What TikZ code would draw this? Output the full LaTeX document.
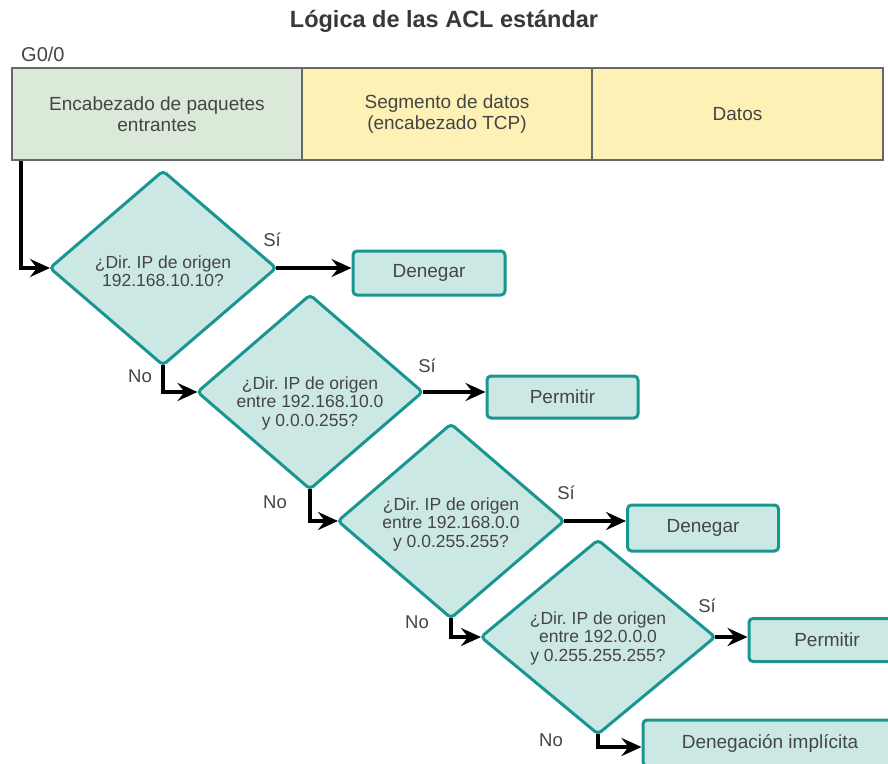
\documentclass[tikz,border=0pt]{standalone}
\usepackage{fontspec}
\setmainfont{Liberation Sans}
\usetikzlibrary{shapes.geometric,arrows.meta}
\definecolor{tealline}{HTML}{1A9690}
\definecolor{tealfill}{HTML}{CCE8E5}
\definecolor{hgreen}{HTML}{DAE9D8}
\definecolor{hyellow}{HTML}{FDF1B6}
\definecolor{hborder}{HTML}{686868}
\definecolor{txt}{HTML}{454545}
\frenchspacing
\tikzset{
  hcell/.style={draw=hborder, line width=2.6pt, minimum height=92pt, inner sep=0pt, align=center, text=txt, font=\fontsize{19}{21}\selectfont},
  dia/.style={diamond, draw=tealline, fill=tealfill, line width=3pt, rounded corners=4pt, inner sep=0pt, outer sep=0pt, minimum width=226pt, minimum height=194pt},
  diatext/.style={align=center, text=txt, font=\fontsize{17.5}{18.5}\selectfont, inner sep=0pt},
  resbox/.style={draw=tealline, fill=tealfill, line width=3pt, rounded corners=4pt, inner sep=0pt, text=txt, font=\fontsize{19}{21}\selectfont},
  lbl/.style={text=txt, font=\fontsize{18.5}{20}\selectfont, inner sep=0pt},
  flow/.style={line width=4.5pt, black, -{Stealth[length=20pt,width=18pt,inset=7pt]}}
}
\begin{document}
\begin{tikzpicture}[x=1pt,y=-1pt]
\clip (0,0) rectangle (888,763);
\fill[white] (0,0) rectangle (888,763);
% title
\node[anchor=base, text=black!78, font=\fontsize{23.5}{26}\selectfont\bfseries, inner sep=0pt] (title) at (444,27) {Lógica de las ACL estándar};
\node[anchor=base west, text=txt, font=\fontsize{20}{22}\selectfont, inner sep=0pt] (g00) at (21,61) {G0/0};
% header
\node[hcell, fill=hgreen, minimum width=290pt] (h1) at (157,114) {Encabezado de paquetes\\entrantes};
\node[hcell, fill=hyellow, minimum width=290pt] (h2) at (447,114) {Segmento de datos\\(encabezado TCP)};
\node[hcell, fill=hyellow, minimum width=291pt] (h3) at (737.5,114) {Datos};
% diamonds
\node[dia] (d1) at (163,268) {};
\node[dia, minimum width=225pt] (d2) at (310,392) {};
\node[dia] (d3) at (451,521) {};
\node[dia, minimum width=234pt] (d4) at (598,637) {};
\node[diatext] (t1) at (163,271) {¿Dir. IP de origen\\192.168.10.10?};
\node[diatext] (t2) at (310,403) {¿Dir. IP de origen\\entre 192.168.10.0\\y 0.0.0.255?};
\node[diatext] (t3) at (451,524) {¿Dir. IP de origen\\entre 192.168.0.0\\y 0.0.255.255?};
\node[diatext] (t4) at (598,638) {¿Dir. IP de origen\\entre 192.0.0.0\\y 0.255.255.255?};
% result boxes
\node[resbox, minimum width=152pt, minimum height=44pt] (b1) at (429,273) {Denegar};
\node[resbox, minimum width=151pt, minimum height=42pt] (b2) at (562.5,397) {Permitir};
\node[resbox, minimum width=151pt, minimum height=46pt] (b3) at (703,528) {Denegar};
\node[resbox, minimum width=156pt, minimum height=43pt] (b4) at (827,640) {Permitir};
\node[resbox, minimum width=254pt, minimum height=46pt] (b5) at (770,743) {Denegación implícita};
% labels
\node[lbl] (s1) at (272,240) {Sí};
\node[lbl] (s2) at (427,366) {Sí};
\node[lbl] (s3) at (566,493) {Sí};
\node[lbl] (s4) at (707,606) {Sí};
\node[lbl] (n1) at (140,376) {No};
\node[lbl] (n2) at (275,502) {No};
\node[lbl] (n3) at (417,622) {No};
\node[lbl] (n4) at (551,740) {No};
% connectors
\coordinate (s0) at (21,161);
\draw[flow] (s0) |- (d1.west);
\draw[flow] (d1.east) -- (d1.east -| b1.west);
\draw[flow] (d2.east) -- (d2.east -| b2.west);
\draw[flow] (d3.east) -- (d3.east -| b3.west);
\draw[flow] (d4.east) -- (d4.east -| b4.west);
\draw[flow] (d1.south) |- (d2.west);
\draw[flow] (d2.south) |- (d3.west);
\draw[flow] (d3.south) |- (d4.west);
\coordinate (e4) at (598,747);
\draw[flow] (d4.south) -- (e4) -- (e4 -| b5.west);
\end{tikzpicture}
\end{document}
